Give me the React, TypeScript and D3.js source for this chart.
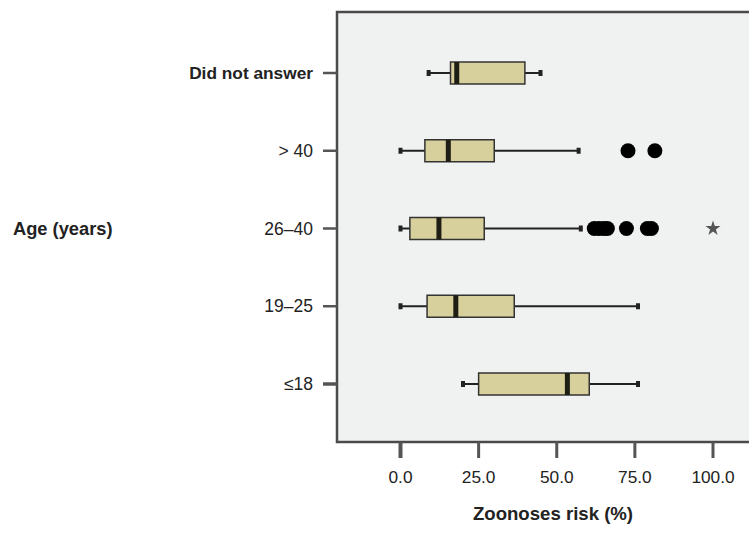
import * as React from "react";
import * as d3 from "d3";

const categories = ["Did not answer", "> 40", "26–40", "19–25", "≤18"];
const whiskerLow = [9, 0, 0, 0, 20];
const q1 = [16, 7.8, 3, 8.5, 25];
const median = [18, 15.3, 12.3, 17.7, 53.4];
const q3 = [39.8, 30, 26.8, 36.4, 60.4];
const whiskerHigh = [44.8, 57, 57.7, 76, 76];

// outliers (circles) and extremes (stars)
const outliers: { cat: string; value: number }[] = [
  { cat: "> 40", value: 72.8 },
  { cat: "> 40", value: 81.4 },
  { cat: "26–40", value: 62 },
  { cat: "26–40", value: 63.5 },
  { cat: "26–40", value: 65 },
  { cat: "26–40", value: 66.2 },
  { cat: "26–40", value: 72.3 },
  { cat: "26–40", value: 79 },
  { cat: "26–40", value: 80.3 }
];
const extremes: { cat: string; value: number }[] = [{ cat: "26–40", value: 100 }];

const xTicks = [0, 25, 50, 75, 100];

const W = 749;
const H = 546;
const font = "'Liberation Sans', Arial, Helvetica, sans-serif";

export default function App() {
  const x = d3.scaleLinear().domain([0, 100]).range([400.5, 713]);
  const y = d3.scalePoint<string>().domain(categories).range([73, 384]);

  const plot = { left: 337, top: 12, right: 770, bottom: 442 };
  const boxH = 22;
  const star = d3.symbol().type(d3.symbolStar).size(70)() as string;

  return (
    <svg
      width={W}
      height={H}
      style={{ position: "absolute", left: 0, top: 0, background: "#fff" }}
      fontFamily={font}
    >
      {/* plot area */}
      <rect
        x={plot.left}
        y={plot.top}
        width={plot.right - plot.left}
        height={plot.bottom - plot.top}
        fill="#f0f1f1"
        stroke="#4a4a4a"
        strokeWidth={2.5}
      />

      {/* y ticks + labels */}
      {categories.map((c, i) => (
        <g key={c}>
          <line
            x1={323}
            x2={337}
            y1={y(c)}
            y2={y(c)}
            stroke="#555"
            strokeWidth={i === 4 ? 3.5 : 2.5}
          />
          <text
            x={313}
            y={y(c)}
            dy="0.35em"
            textAnchor="end"
            fontSize={i === 0 ? 17.3 : 17.5}
            fontWeight={i === 0 ? "bold" : "normal"}
            fill="#222"
          >
            {c}
          </text>
        </g>
      ))}

      {/* x ticks + labels */}
      {xTicks.map(t => (
        <g key={t}>
          <line
            x1={x(t)}
            x2={x(t)}
            y1={plot.bottom}
            y2={458}
            stroke="#555"
            strokeWidth={t === 0 ? 4 : 3}
          />
          <text x={x(t)} y={483} textAnchor="middle" fontSize={17.3} fill="#222">
            {t.toFixed(1)}
          </text>
        </g>
      ))}

      {/* axis titles */}
      <text x={13} y={229} dy="0.35em" fontSize={18.3} fontWeight="bold" fill="#222">
        Age (years)
      </text>
      <text x={553} y={520} textAnchor="middle" fontSize={18.6} fontWeight="bold" fill="#222">
        Zoonoses risk (%)
      </text>

      {/* boxes */}
      {categories.map((c, i) => {
        const cy = y(c) as number;
        return (
          <g key={c}>
            <line
              x1={x(whiskerLow[i])}
              x2={x(q1[i])}
              y1={cy}
              y2={cy}
              stroke="#222"
              strokeWidth={2}
            />
            <line
              x1={x(q3[i])}
              x2={x(whiskerHigh[i])}
              y1={cy}
              y2={cy}
              stroke="#222"
              strokeWidth={2}
            />
            <rect
              x={x(whiskerLow[i]) - 2}
              y={cy - 3}
              width={4}
              height={6}
              fill="#222"
            />
            <rect
              x={x(whiskerHigh[i]) - 2}
              y={cy - 3}
              width={4}
              height={6}
              fill="#222"
            />
            <rect
              x={x(q1[i])}
              y={cy - boxH / 2}
              width={x(q3[i]) - x(q1[i])}
              height={boxH}
              fill="#d8d09c"
              stroke="#333"
              strokeWidth={1.5}
            />
            <rect
              x={x(median[i]) - 2.5}
              y={cy - boxH / 2}
              width={5}
              height={boxH}
              fill="#1e1e14"
            />
          </g>
        );
      })}

      {/* outliers */}
      {outliers.map((o, i) => (
        <circle key={i} cx={x(o.value)} cy={y(o.cat)} r={7.5} fill="#000" />
      ))}
      {extremes.map((o, i) => (
        <path
          key={i}
          d={star}
          transform={`translate(${x(o.value)},${y(o.cat)})`}
          fill="#555"
        />
      ))}
    </svg>
  );
}
